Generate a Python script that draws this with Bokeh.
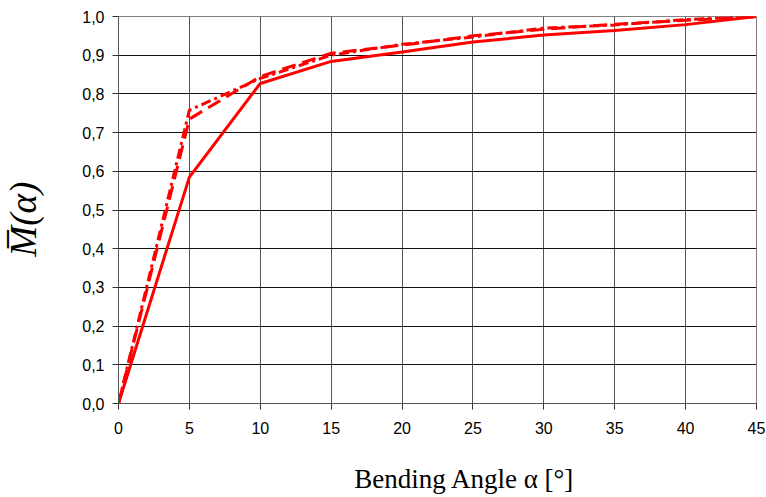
from bokeh.plotting import figure
from bokeh.models import FixedTicker, Range1d
from bokeh.embed import file_html
from bokeh.resources import INLINE

angles = [0, 5, 10, 15, 20, 25, 30, 35, 40, 45]
solid_vals = [0.0, 0.585, 0.827, 0.884, 0.908, 0.934, 0.952, 0.964, 0.979, 1.0]
dashed_vals = [0.0, 0.735, 0.845, 0.905, 0.926, 0.950, 0.967, 0.980, 0.990, 1.0]
dashdot_vals = [0.0, 0.758, 0.840, 0.900, 0.928, 0.947, 0.970, 0.978, 0.992, 1.0]

x_ticks = [0, 5, 10, 15, 20, 25, 30, 35, 40, 45]
y_ticks = [0.0, 0.1, 0.2, 0.3, 0.4, 0.5, 0.6, 0.7, 0.8, 0.9, 1.0]
y_tick_labels = ["0,0", "0,1", "0,2", "0,3", "0,4", "0,5", "0,6", "0,7", "0,8", "0,9", "1,0"]

p = figure(width=765, height=496, output_backend="svg", toolbar_location=None,
           x_range=Range1d(0, 45), y_range=Range1d(0, 1.0),
           min_border_left=117, min_border_right=9, min_border_top=16, min_border_bottom=92)

p.line(angles, solid_vals, line_color="#ff0000", line_width=3)
p.line(angles, dashed_vals, line_color="#ff0000", line_width=3, line_dash="14 7")
p.line(angles, dashdot_vals, line_color="#ff0000", line_width=3, line_dash="10 4 3 4")

p.xaxis.ticker = FixedTicker(ticks=x_ticks)
p.yaxis.ticker = FixedTicker(ticks=y_ticks)
p.yaxis.major_label_overrides = {t: l for t, l in zip(y_ticks, y_tick_labels)}
p.xaxis.major_label_overrides = {t: str(t) for t in x_ticks}

for ax in (p.xaxis, p.yaxis):
    ax.major_label_text_font = "Liberation Sans"
    ax.major_label_text_font_size = "16px"
    ax.major_label_text_color = "#000000"
    ax.major_tick_out = 6
    ax.major_tick_in = 0
    ax.minor_tick_out = 0
    ax.minor_tick_in = 0
    ax.axis_line_color = "#555555"
    ax.major_tick_line_color = "#333333"
    ax.axis_label_text_color = "#000000"

p.xaxis.major_label_standoff = 12
p.yaxis.major_label_standoff = 8

p.xaxis.axis_label = "\u2002\u2002\u2002\u2002Bending Angle \u03b1 [\u00b0]"
p.xaxis.axis_label_text_font = "Liberation Serif"
p.xaxis.axis_label_text_font_style = "normal"
p.xaxis.axis_label_text_font_size = "27px"
p.xaxis.axis_label_standoff = 27

p.yaxis.axis_label = "M\u0305(\u03b1)\u2002"
p.yaxis.axis_label_text_font = "Liberation Serif"
p.yaxis.axis_label_text_font_style = "italic"
p.yaxis.axis_label_text_font_size = "37px"
p.yaxis.axis_label_standoff = 35

p.xgrid.grid_line_color = "#555555"
p.ygrid.grid_line_color = "#111111"
p.xgrid.grid_line_width = 1
p.ygrid.grid_line_width = 1
p.outline_line_color = "#808080"
p.outline_line_width = 1
p.background_fill_color = "white"
p.border_fill_color = "white"

open("out.html", "w").write(file_html(p, INLINE))
